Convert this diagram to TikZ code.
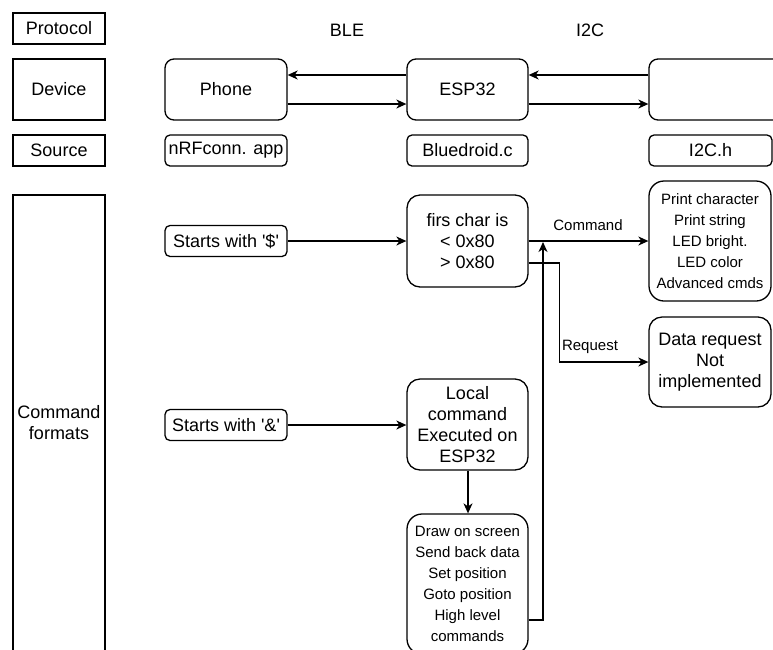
\documentclass[tikz,border=0pt]{standalone}
\usepackage{fontspec}
\setmainfont{Liberation Sans}
\usetikzlibrary{arrows.meta}
\begin{document}
\begin{tikzpicture}[x=1pt,y=-1pt,line width=1.3pt,
  big/.style={font=\fontsize{18}{21}\selectfont},
  small/.style={font=\fontsize{15}{21}\selectfont},
  sqbox/.style={draw, big, align=center, inner sep=0pt, minimum width=92pt},
  rbox/.style={draw, rounded corners=#1, big, align=center, inner sep=0pt},
  rbox/.default=8pt,
  lbl/.style={inner sep=0pt},
  arr/.style={-{Stealth[length=10pt,width=9pt,inset=3pt]}}]
\useasboundingbox (0,0) rectangle (773,649);
\clip (0,0) rectangle (773,649);
% left column
\node[sqbox, minimum height=31pt] (proto) at (59,28.5) {Protocol};
\node[sqbox, minimum height=61pt] (dev) at (59,89.5) {Device};
\node[sqbox, minimum height=31pt] (src) at (59,150.5) {Source};
\node[sqbox, minimum height=456pt] (fmt) at (59,423) {Command\\formats};
% protocol labels
\node[lbl, big] (ble) at (347,30) {BLE};
\node[lbl, big] (i2c) at (590,30) {I2C};
% devices
\node[rbox=9pt, minimum width=122pt, minimum height=61pt] (phone) at (226,89.5) {Phone};
\node[rbox=9pt, minimum width=121pt, minimum height=61pt] (esp) at (467.5,89.5) {ESP32};
\node[rbox=9pt, minimum width=141pt, minimum height=61pt] (rdev) at (719.5,89.5) {};
% sources
\node[rbox=5pt, minimum width=122pt, minimum height=31pt] (nrf) at (226,150.5) {nRFconn. app};
\node[rbox=5pt, minimum width=121pt, minimum height=31pt] (blue) at (467.5,150.5) {Bluedroid.c};
\node[rbox=5pt, minimum width=123pt, minimum height=31pt] (i2ch) at (710.5,150.5) {I2C.h};
% command formats
\node[rbox=5pt, minimum width=122pt, minimum height=31pt] (s1) at (226,241) {Starts with \textquotesingle\$\textquotesingle};
\node[rbox=5pt, minimum width=122pt, minimum height=31pt] (s2) at (226,425) {Starts with \textquotesingle\&\textquotesingle};
\node[rbox=13pt, minimum width=121pt, minimum height=92pt] (firs) at (467.5,241) {firs char is\\< 0x80\\> 0x80};
\node[rbox=15pt, minimum width=122pt, minimum height=120pt, small] (print) at (710,241) {Print character\\Print string\\LED bright.\\LED color\\Advanced cmds};
\node[rbox=13pt, minimum width=122pt, minimum height=90pt] (dreq) at (710,362) {Data request\\Not\\implemented};
\node[rbox=13pt, minimum width=121pt, minimum height=91pt] (local) at (467.5,424.5) {Local\\command\\Executed on\\ESP32};
\node[rbox=15pt, minimum width=121pt, minimum height=140pt, small] (drawb) at (467.5,584) {Draw on screen\\Send back data\\Set position\\Goto position\\High level\\commands};
% device arrows
\draw[arr] ([yshift=14.5pt]esp.west) -- ([yshift=14.5pt]phone.east);
\draw[arr] ([yshift=-14.5pt]phone.east) -- ([yshift=-14.5pt]esp.west);
\draw[arr] ([yshift=14.5pt]rdev.west) -- ([yshift=14.5pt]esp.east);
\draw[arr] ([yshift=-14.5pt]esp.east) -- ([yshift=-14.5pt]rdev.west);
% command arrows
\draw[arr] (s1.east) -- (s1.east -| firs.west);
\draw[arr] (s2.east) -- (s2.east -| local.west);
\draw[arr] (firs.east) -- (firs.east -| print.west);
\node[lbl, small] (cmdlbl) at (588,225) {Command};
\draw[arr] ([yshift=-22pt]firs.east) -- ++(31,0) |- (dreq.west);
\node[lbl, small] (reqlbl) at (590,347) {Request};
\coordinate (cmdjoin) at (543,242);
\draw[arr] ([yshift=-36pt]drawb.east) -| (cmdjoin);
\draw[arr] ([xshift=0.5pt]local.south) -- ([xshift=0.5pt]drawb.north);
\end{tikzpicture}
\end{document}
